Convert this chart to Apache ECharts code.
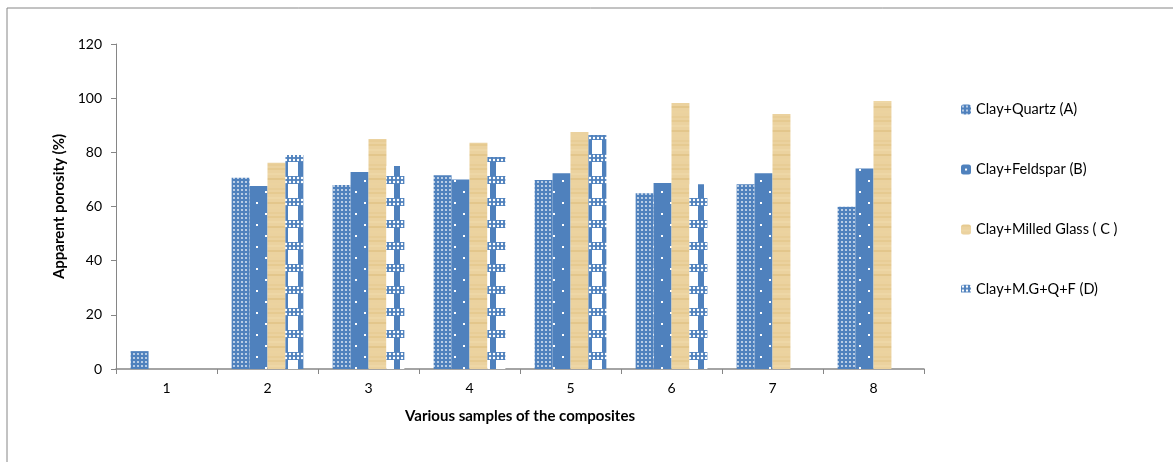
<!DOCTYPE html>
<html>
<head>
<meta charset="utf-8">
<script src="https://cdn.jsdelivr.net/npm/echarts@6/dist/echarts.min.js"></script>
<style>
  html, body { margin: 0; padding: 0; background: #fff; }
  #chart { width: 1173px; height: 462px; }
</style>
</head>
<body>
<div id="chart"></div>
<script>
// data
const samples = ['1', '2', '3', '4', '5', '6', '7', '8']
const seriesNames = ['Clay+Quartz (A)', 'Clay+Feldspar (B)', 'Clay+Milled Glass ( C )', 'Clay+M.G+Q+F (D)']
const quartzA = [6.6, 70.6, 67.9, 71.5, 69.8, 64.9, 68.2, 59.9]
const feldsparB = [null, 67.6, 72.7, 70.0, 72.3, 68.7, 72.3, 74.0]
const glassC = [null, 76.2, 84.9, 83.5, 87.5, 98.2, 94.2, 99.0]
const mixD = [null, 79.0, 75.0, 78.3, 86.4, 68.2, null, null]
const yTicks = [0, 20, 40, 60, 80, 100, 120]

const blue = '#4F81BD'
const fontFam = 'Lato, "Open Sans", sans-serif'

// fill patterns like the excel textures
const makeTile = (w, h, draw) => {
  const c = document.createElement('canvas')
  c.width = w
  c.height = h
  draw(c.getContext('2d'))
  return { image: c, repeat: 'repeat' }
}

const patA = makeTile(4, 4, (g) => {
  g.fillStyle = blue
  g.fillRect(0, 0, 4, 4)
  g.fillStyle = 'rgba(255,255,255,0.75)'
  g.beginPath()
  g.arc(2, 2, 1.1, 0, Math.PI * 2)
  g.fill()
})

const patB = makeTile(18, 22, (g) => {
  g.fillStyle = blue
  g.fillRect(0, 0, 18, 22)
  g.fillStyle = '#ffffff'
  g.fillRect(4, 4, 2, 2)
  g.fillRect(13, 15, 2, 2)
})

const patC = makeTile(20, 24, (g) => {
  g.fillStyle = '#EBD29F'
  g.fillRect(0, 0, 20, 24)
  const bands = ['#E6CA90', '#EED7A6', '#E3C68B', '#ECD39F', '#E8CD96']
  for (let i = 0; i < bands.length; i++) {
    g.fillStyle = bands[i]
    g.fillRect(0, i * 5, 20, 2)
  }
})

const patD = makeTile(16, 22, (g) => {
  g.fillStyle = '#ffffff'
  g.fillRect(0, 0, 16, 22)
  g.fillStyle = blue
  g.fillRect(0, 0, 16, 8)
  g.fillStyle = '#ffffff'
  for (let x = 1; x < 16; x += 4) {
    g.beginPath()
    g.arc(x + 1, 2, 1.2, 0, Math.PI * 2)
    g.arc(x + 1, 6, 1.2, 0, Math.PI * 2)
    g.fill()
  }
  g.fillStyle = blue
  g.fillRect(10, 8, 6, 14)
})

const fills = [patA, patB, patC, patD]
const values = [quartzA, feldsparB, glassC, mixD]

const chart = echarts.init(document.getElementById('chart'))

const series = []
for (let s = 0; s < seriesNames.length; s++) {
  series.push({
    name: seriesNames[s],
    type: 'bar',
    barGap: '0%',
    barCategoryGap: '29%',
    itemStyle: { color: fills[s] },
    emphasis: { disabled: true },
    data: values[s]
  })
}

chart.setOption({
  animation: false,
  backgroundColor: '#fff',
  textStyle: { fontFamily: fontFam },
  graphic: [{
    type: 'rect',
    shape: { x: 7, y: 8, width: 2000, height: 2000 },
    style: { fill: 'none', stroke: '#868686', lineWidth: 1 },
    silent: true
  }],
  grid: {
    left: 116,
    right: 249,
    top: 44,
    bottom: 93
  },
  legend: {
    orient: 'vertical',
    left: 956,
    top: 96,
    itemWidth: 10,
    itemHeight: 10,
    itemGap: 43,
    textStyle: { fontSize: 14.5, color: '#000', lineHeight: 17, fontFamily: fontFam },
    data: seriesNames
  },
  xAxis: {
    type: 'category',
    data: samples,
    name: 'Various samples of the composites',
    nameLocation: 'middle',
    nameGap: 40,
    nameTextStyle: { fontWeight: 'bold', fontSize: 15, color: '#000' },
    axisLine: { lineStyle: { color: '#868686', width: 1.5 } },
    axisTick: { show: true, length: 5, lineStyle: { color: '#868686' } },
    axisLabel: { color: '#000', fontSize: 14, margin: 12 }
  },
  yAxis: {
    type: 'value',
    min: yTicks[0],
    max: yTicks[yTicks.length - 1],
    interval: 20,
    name: 'Apparent porosity (%)',
    nameLocation: 'middle',
    nameGap: 46,
    nameTextStyle: { fontWeight: 'bold', fontSize: 15, color: '#000' },
    splitLine: { show: false },
    axisLine: { show: true, lineStyle: { color: '#868686', width: 1 } },
    axisTick: { show: true, length: 5, lineStyle: { color: '#868686' } },
    axisLabel: { color: '#000', fontSize: 14, margin: 14 }
  },
  series: series
})
</script>
</body>
</html>
